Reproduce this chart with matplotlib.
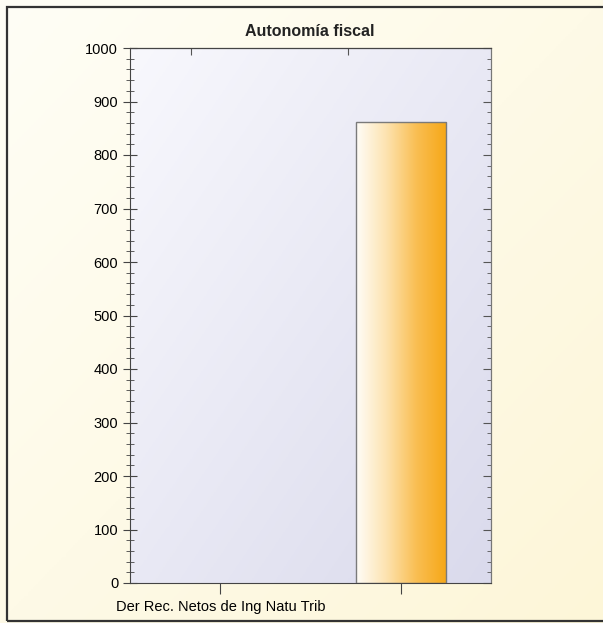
import numpy as np
import matplotlib
matplotlib.use("Agg")
import matplotlib.pyplot as plt
from matplotlib.colors import LinearSegmentedColormap
from matplotlib.patches import Rectangle

categories = ["Der Rec. Netos de Ing Natu Trib", ""]
values = [0, 862]
title = "Autonomía fiscal"

plt.rcParams['font.family'] = ['Liberation Sans', 'DejaVu Sans']

fig = plt.figure(figsize=(6.03, 6.23), dpi=100)

# diagonal gradient: light top-left, darker bottom-right (origin upper)
g = np.linspace(0, 1, 256)
diag = np.add.outer(g, g) / 2

# cream background with border
bg = fig.add_axes([0, 0, 1, 1], zorder=-10)
bg.set_axis_off()
cream = LinearSegmentedColormap.from_list("cream", ["#fffef6", "#fdf6d8"])
bg.imshow(diag, cmap=cream, extent=[0, 1, 0, 1], aspect="auto")
bg.set_xlim(0, 1)
bg.set_ylim(0, 1)
bg.add_patch(Rectangle((7 / 603, 2 / 623), 1.2, 614 / 623, fill=False,
                       edgecolor="#333333", linewidth=1.6))

ax = fig.add_axes([130 / 603, 1 - 583 / 623, 361 / 603, 535 / 623])
ax.set_facecolor("none")
lav = LinearSegmentedColormap.from_list("lav", ["#f8f8fd", "#dadaec"])
ax.imshow(diag, cmap=lav, extent=[0, 1, 0, 1],
          aspect="auto", transform=ax.transAxes, zorder=0)

x = np.arange(len(categories))
bars = ax.bar(x, values, width=0.5, color="none", edgecolor="#7a7a7a", linewidth=1.0, zorder=3)
orange = LinearSegmentedColormap.from_list("orng", ["#fffdf8", "#fde3b0", "#f9be52", "#f6a716"])
for b in bars:
    if b.get_height() <= 0:
        b.set_linewidth(0)
        continue
    im = ax.imshow(np.linspace(0, 1, 256)[None, :], cmap=orange, aspect="auto",
                   extent=[b.get_x(), b.get_x() + b.get_width(), 0, b.get_height()], zorder=2)
    im.set_clip_path(b)

ax.set_xlim(-0.5, len(categories) - 0.5)
ax.set_ylim(0, 1000)
ax.set_xticks(x)
ax.set_xticklabels(categories, fontsize=10.5)
ax.set_yticks(np.arange(0, 1001, 100))
ax.set_yticks(np.arange(0, 1001, 20), minor=True)
ax.tick_params(axis="y", which="major", direction="inout", length=10, labelsize=10.5, color="#444444")
ax.tick_params(axis="y", which="minor", direction="inout", length=6, color="#444444")
ax.tick_params(axis="x", direction="out", length=8, color="#444444", pad=4)

right = ax.secondary_yaxis("right")
right.set_yticks(np.arange(0, 1001, 100))
right.set_yticks(np.arange(0, 1001, 20), minor=True)
right.tick_params(which="major", direction="in", length=6, labelright=False, color="#555555")
right.tick_params(which="minor", direction="in", length=3, color="#555555")
right.spines["right"].set_color("#777777")

top = ax.secondary_xaxis("top")
top.set_xticks([-0.16, 0.71])
top.tick_params(direction="in", length=5, labeltop=False, color="#555555")

for s in ["left", "bottom", "top"]:
    ax.spines[s].set_color("#444444")
ax.spines["right"].set_color("#777777")

fig.text(310 / 603, 1 - 31 / 623, title, ha="center", va="center",
         fontsize=11.5, fontweight="bold", color="#222222")

fig.savefig("out.png", dpi=100)
